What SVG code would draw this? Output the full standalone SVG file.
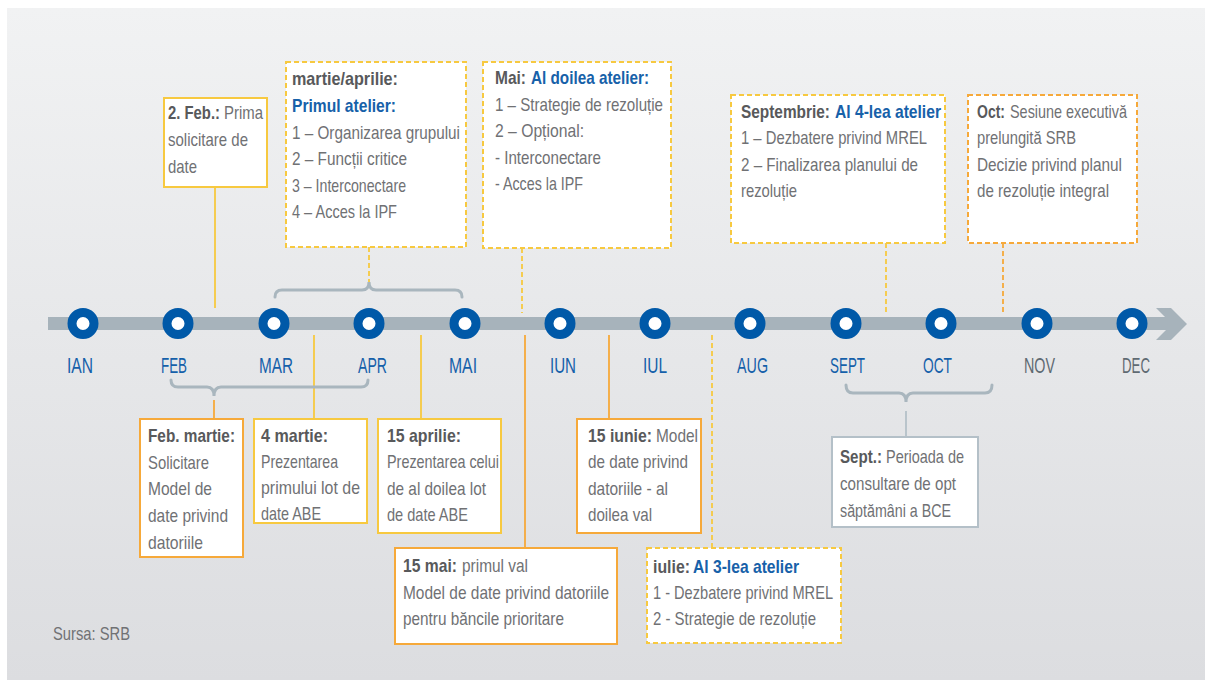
<svg xmlns="http://www.w3.org/2000/svg" width="1205" height="684" viewBox="0 0 1205 684">
<defs>
<linearGradient id="bg" x1="0" y1="0" x2="0" y2="1">
<stop offset="0" stop-color="#f1f2f3"/>
<stop offset="1" stop-color="#dcdde0"/>
</linearGradient>
</defs>
<style>
.t{font-family:"Liberation Sans",Arial,sans-serif;font-size:18.5px;fill:#707174}
.b{font-weight:bold;fill:#58595b}
.bl{font-weight:bold;fill:#1761a9}
.m{font-family:"Liberation Sans",Arial,sans-serif;font-size:22px;fill:#1560aa;text-anchor:middle}
.mg{fill:#5f6a72}
.bx{fill:#ffffff;stroke-width:2}
.y{stroke:#f7c940}
.o{stroke:#f6a93a}
.g{stroke:#b4c0c8}
.d{stroke-dasharray:5 3}
.c{fill:none;stroke-width:1.8}
.br{fill:none;stroke:#a9b6be;stroke-width:3;stroke-linecap:round}
.dot{fill:#ffffff;stroke:#0059a8;stroke-width:9}
</style>
<rect x="7" y="8" width="1198" height="672" fill="url(#bg)"/>

<g id="timeline">
<rect x="48" y="317" width="1127" height="13" fill="#a7b3bb"/>
<polygon points="1156,308 1171,308 1187,324 1171,340 1156,340 1172,324" fill="#a7b3bb"/>
<circle class="dot" cx="83" cy="323.5" r="11"/>
<circle class="dot" cx="178" cy="323.5" r="11"/>
<circle class="dot" cx="274" cy="323.5" r="11"/>
<circle class="dot" cx="369" cy="323.5" r="11"/>
<circle class="dot" cx="465" cy="323.5" r="11"/>
<circle class="dot" cx="560" cy="323.5" r="11"/>
<circle class="dot" cx="655" cy="323.5" r="11"/>
<circle class="dot" cx="750" cy="323.5" r="11"/>
<circle class="dot" cx="846" cy="323.5" r="11"/>
<circle class="dot" cx="941" cy="323.5" r="11"/>
<circle class="dot" cx="1037" cy="323.5" r="11"/>
<circle class="dot" cx="1132" cy="323.5" r="11"/>
<text class="m" transform="translate(80,373) scale(.8 1)" textLength="32.5" lengthAdjust="spacingAndGlyphs">IAN</text>
<text class="m" transform="translate(174,373) scale(.8 1)" textLength="32.5" lengthAdjust="spacingAndGlyphs">FEB</text>
<text class="m" transform="translate(276,373) scale(.8 1)" textLength="42.5" lengthAdjust="spacingAndGlyphs">MAR</text>
<text class="m" transform="translate(372.5,373) scale(.8 1)" textLength="36.25" lengthAdjust="spacingAndGlyphs">APR</text>
<text class="m" transform="translate(463,373) scale(.8 1)" textLength="35" lengthAdjust="spacingAndGlyphs">MAI</text>
<text class="m" transform="translate(563,373) scale(.8 1)" textLength="32.5" lengthAdjust="spacingAndGlyphs">IUN</text>
<text class="m" transform="translate(655,373) scale(.8 1)" textLength="30" lengthAdjust="spacingAndGlyphs">IUL</text>
<text class="m" transform="translate(752.5,373) scale(.8 1)" textLength="38.75" lengthAdjust="spacingAndGlyphs">AUG</text>
<text class="m" transform="translate(847.5,373) scale(.8 1)" textLength="43.75" lengthAdjust="spacingAndGlyphs">SEPT</text>
<text class="m" transform="translate(937.5,373) scale(.8 1)" textLength="36.25" lengthAdjust="spacingAndGlyphs">OCT</text>
<text class="m mg" transform="translate(1039.5,373) scale(.8 1)" textLength="38.75" lengthAdjust="spacingAndGlyphs">NOV</text>
<text class="m mg" transform="translate(1136,373) scale(.8 1)" textLength="35" lengthAdjust="spacingAndGlyphs">DEC</text>
</g>

<g id="connectors">
<line class="c y" x1="215" y1="187" x2="215" y2="308"/>
<line class="c y d" x1="369" y1="247" x2="369" y2="282"/>
<line class="c y d" x1="522" y1="248" x2="522" y2="313"/>
<line class="c y d" x1="886" y1="243" x2="886" y2="312"/>
<line class="c o d" x1="1003" y1="243" x2="1003" y2="312"/>
<line class="c o" x1="214" y1="400" x2="214" y2="419"/>
<line class="c y" x1="314" y1="335" x2="314" y2="419"/>
<line class="c y" x1="421" y1="335" x2="421" y2="419"/>
<line class="c o" x1="609" y1="335" x2="609" y2="419"/>
<line class="c o" x1="525" y1="335" x2="525" y2="548"/>
<line class="c y d" x1="712" y1="335" x2="712" y2="548"/>
<line class="c g" x1="906" y1="411" x2="906" y2="437"/>
<path class="br" d="M275,297 Q275,290 282,290 L362,290 Q369,290 369,282 Q369,290 376,290 L455,290 Q462,290 462,297"/>
<path class="br" d="M171,380 Q171,387 178,387 L207,387 Q214,387 214,396 Q214,387 221,387 L361,387 Q368,387 368,380"/>
<path class="br" d="M846,385 Q846,393 853,393 L899,393 Q906,393 906,402 Q906,393 913,393 L985,393 Q992,393 992,385"/>
</g>

<g id="n-feb2">
<rect class="bx y" x="164" y="98" width="103" height="89"/>
<text class="t b" transform="translate(168,119) scale(.8 1)" textLength="65" lengthAdjust="spacingAndGlyphs">2. Feb.:</text>
<text class="t" transform="translate(224,119) scale(.8 1)" textLength="48.75" lengthAdjust="spacingAndGlyphs">Prima</text>
<text class="t" transform="translate(168,146) scale(.8 1)" textLength="100" lengthAdjust="spacingAndGlyphs">solicitare de</text>
<text class="t" transform="translate(168,173) scale(.8 1)" textLength="36.25" lengthAdjust="spacingAndGlyphs">date</text>
</g>

<g id="n-marapr">
<rect class="bx y d" x="286" y="62" width="180" height="185"/>
<text class="t b" transform="translate(292,85) scale(.8 1)" textLength="132.5" lengthAdjust="spacingAndGlyphs">martie/aprilie:</text>
<text class="t bl" transform="translate(292,112) scale(.8 1)" textLength="130" lengthAdjust="spacingAndGlyphs">Primul atelier:</text>
<text class="t" transform="translate(292,139) scale(.8 1)" textLength="210" lengthAdjust="spacingAndGlyphs">1 – Organizarea grupului</text>
<text class="t" transform="translate(292,165) scale(.8 1)" textLength="143.75" lengthAdjust="spacingAndGlyphs">2 – Funcții critice</text>
<text class="t" transform="translate(292,192) scale(.8 1)" textLength="142.5" lengthAdjust="spacingAndGlyphs">3 – Interconectare</text>
<text class="t" transform="translate(292,218) scale(.8 1)" textLength="131.25" lengthAdjust="spacingAndGlyphs">4 – Acces la IPF</text>
</g>

<g id="n-mai">
<rect class="bx y d" x="483" y="62" width="188" height="186"/>
<text class="t b" transform="translate(495,84) scale(.8 1)" textLength="38.75" lengthAdjust="spacingAndGlyphs">Mai:</text>
<text class="t bl" transform="translate(531,84) scale(.8 1)" textLength="147.5" lengthAdjust="spacingAndGlyphs">Al doilea atelier:</text>
<text class="t" transform="translate(495,110.6) scale(.8 1)" textLength="210" lengthAdjust="spacingAndGlyphs">1 – Strategie de rezoluție</text>
<text class="t" transform="translate(495,137.2) scale(.8 1)" textLength="111.25" lengthAdjust="spacingAndGlyphs">2 – Opțional:</text>
<text class="t" transform="translate(495,163.8) scale(.8 1)" textLength="132.5" lengthAdjust="spacingAndGlyphs">- Interconectare</text>
<text class="t" transform="translate(495,190.4) scale(.8 1)" textLength="110" lengthAdjust="spacingAndGlyphs">- Acces la IPF</text>
</g>

<g id="n-sept">
<rect class="bx y d" x="731" y="95" width="214" height="148"/>
<text class="t b" transform="translate(741,118) scale(.8 1)" textLength="111.25" lengthAdjust="spacingAndGlyphs">Septembrie:</text>
<text class="t bl" transform="translate(835,118) scale(.8 1)" textLength="132.5" lengthAdjust="spacingAndGlyphs">Al 4-lea atelier</text>
<text class="t" transform="translate(741,144) scale(.8 1)" textLength="232.5" lengthAdjust="spacingAndGlyphs">1 – Dezbatere privind MREL</text>
<text class="t" transform="translate(741,171) scale(.8 1)" textLength="221.25" lengthAdjust="spacingAndGlyphs">2 – Finalizarea planului de</text>
<text class="t" transform="translate(741,197) scale(.8 1)" textLength="70" lengthAdjust="spacingAndGlyphs">rezoluție</text>
</g>

<g id="n-oct">
<rect class="bx o d" x="968" y="95" width="169" height="148"/>
<text class="t b" transform="translate(977,118) scale(.8 1)" textLength="35" lengthAdjust="spacingAndGlyphs">Oct:</text>
<text class="t" transform="translate(1010,118) scale(.8 1)" textLength="146.25" lengthAdjust="spacingAndGlyphs">Sesiune executivă</text>
<text class="t" transform="translate(977,144) scale(.8 1)" textLength="123.75" lengthAdjust="spacingAndGlyphs">prelungită SRB</text>
<text class="t" transform="translate(977,171) scale(.8 1)" textLength="181.25" lengthAdjust="spacingAndGlyphs">Decizie privind planul</text>
<text class="t" transform="translate(977,197) scale(.8 1)" textLength="165" lengthAdjust="spacingAndGlyphs">de rezoluție integral</text>
</g>

<g id="n-febmar">
<rect class="bx o" x="140" y="419" width="103" height="138"/>
<text class="t b" transform="translate(148,442) scale(.8 1)" textLength="108.75" lengthAdjust="spacingAndGlyphs">Feb. martie:</text>
<text class="t" transform="translate(148,469) scale(.8 1)" textLength="76.25" lengthAdjust="spacingAndGlyphs">Solicitare</text>
<text class="t" transform="translate(148,495) scale(.8 1)" textLength="80" lengthAdjust="spacingAndGlyphs">Model de</text>
<text class="t" transform="translate(148,522) scale(.8 1)" textLength="100" lengthAdjust="spacingAndGlyphs">date privind</text>
<text class="t" transform="translate(148,549) scale(.8 1)" textLength="68.75" lengthAdjust="spacingAndGlyphs">datoriile</text>
</g>

<g id="n-4mar">
<rect class="bx y" x="254" y="419" width="113" height="104"/>
<text class="t b" transform="translate(261,442) scale(.8 1)" textLength="83.75" lengthAdjust="spacingAndGlyphs">4 martie:</text>
<text class="t" transform="translate(261,468) scale(.8 1)" textLength="96.25" lengthAdjust="spacingAndGlyphs">Prezentarea</text>
<text class="t" transform="translate(261,494) scale(.8 1)" textLength="123.75" lengthAdjust="spacingAndGlyphs">primului lot de</text>
<text class="t" transform="translate(261,520) scale(.8 1)" textLength="75" lengthAdjust="spacingAndGlyphs">date ABE</text>
</g>

<g id="n-15apr">
<rect class="bx y" x="378" y="419" width="123" height="114"/>
<text class="t b" transform="translate(387,442) scale(.8 1)" textLength="92.5" lengthAdjust="spacingAndGlyphs">15 aprilie:</text>
<text class="t" transform="translate(387,468) scale(.8 1)" textLength="140" lengthAdjust="spacingAndGlyphs">Prezentarea celui</text>
<text class="t" transform="translate(387,495) scale(.8 1)" textLength="123.75" lengthAdjust="spacingAndGlyphs">de al doilea lot</text>
<text class="t" transform="translate(387,521) scale(.8 1)" textLength="101.25" lengthAdjust="spacingAndGlyphs">de date ABE</text>
</g>

<g id="n-15iun">
<rect class="bx o" x="577" y="419" width="124" height="114"/>
<text class="t b" transform="translate(588,442) scale(.8 1)" textLength="80" lengthAdjust="spacingAndGlyphs">15 iunie:</text>
<text class="t" transform="translate(656,442) scale(.8 1)" textLength="52.5" lengthAdjust="spacingAndGlyphs">Model</text>
<text class="t" transform="translate(588,468) scale(.8 1)" textLength="125" lengthAdjust="spacingAndGlyphs">de date privind</text>
<text class="t" transform="translate(588,495) scale(.8 1)" textLength="100" lengthAdjust="spacingAndGlyphs">datoriile - al</text>
<text class="t" transform="translate(588,521) scale(.8 1)" textLength="80" lengthAdjust="spacingAndGlyphs">doilea val</text>
</g>

<g id="n-15mai">
<rect class="bx o" x="395" y="548" width="222" height="96"/>
<text class="t b" transform="translate(403,572) scale(.8 1)" textLength="67.5" lengthAdjust="spacingAndGlyphs">15 mai:</text>
<text class="t" transform="translate(462,572) scale(.8 1)" textLength="82.5" lengthAdjust="spacingAndGlyphs">primul val</text>
<text class="t" transform="translate(403,599) scale(.8 1)" textLength="257.5" lengthAdjust="spacingAndGlyphs">Model de date privind datoriile</text>
<text class="t" transform="translate(403,625) scale(.8 1)" textLength="201.25" lengthAdjust="spacingAndGlyphs">pentru băncile prioritare</text>
</g>

<g id="n-iulie">
<rect class="bx y d" x="647" y="548" width="194" height="95"/>
<text class="t b" transform="translate(653,573) scale(.8 1)" textLength="46.25" lengthAdjust="spacingAndGlyphs">iulie:</text>
<text class="t bl" transform="translate(693,573) scale(.8 1)" textLength="132.5" lengthAdjust="spacingAndGlyphs">Al 3-lea atelier</text>
<text class="t" transform="translate(653,599) scale(.8 1)" textLength="225" lengthAdjust="spacingAndGlyphs">1 - Dezbatere privind MREL</text>
<text class="t" transform="translate(653,625) scale(.8 1)" textLength="203.75" lengthAdjust="spacingAndGlyphs">2 - Strategie de rezoluție</text>
</g>

<g id="n-septcons">
<rect class="bx g" x="832" y="437" width="146" height="90"/>
<text class="t b" transform="translate(840,463) scale(.8 1)" textLength="52.5" lengthAdjust="spacingAndGlyphs">Sept.:</text>
<text class="t" transform="translate(886,463) scale(.8 1)" textLength="97.5" lengthAdjust="spacingAndGlyphs">Perioada de</text>
<text class="t" transform="translate(840,490) scale(.8 1)" textLength="145" lengthAdjust="spacingAndGlyphs">consultare de opt</text>
<text class="t" transform="translate(840,517) scale(.8 1)" textLength="138.75" lengthAdjust="spacingAndGlyphs">săptămâni a BCE</text>
</g>

<text class="t" transform="translate(53,640) scale(.8 1)" textLength="96.25" lengthAdjust="spacingAndGlyphs">Sursa: SRB</text>
</svg>
